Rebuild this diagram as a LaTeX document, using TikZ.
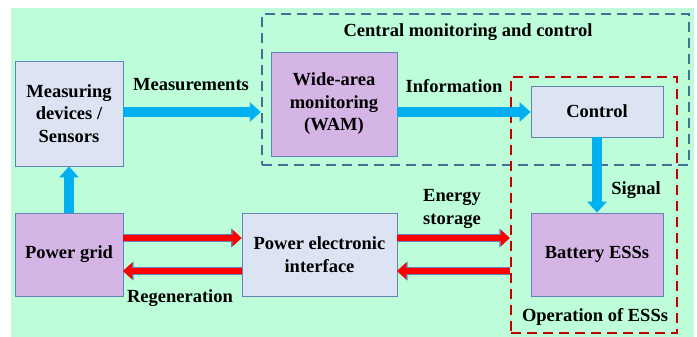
\documentclass[tikz,border=0pt]{standalone}
\usepackage{fontspec}
\setmainfont{Liberation Serif}
\usetikzlibrary{arrows.meta}
\definecolor{bggreen}{RGB}{189,253,218}
\definecolor{lightbox}{RGB}{220,228,244}
\definecolor{purplebox}{RGB}{213,181,230}
\definecolor{boxedge}{RGB}{100,130,180}
\definecolor{dashblue}{RGB}{70,110,150}
\definecolor{dashred}{RGB}{192,0,0}
\definecolor{arrowblue}{RGB}{0,176,240}
\newcommand\lblfont{\fontsize{18.5}{22.5}\selectfont\bfseries}
\tikzset{
  blk/.style={draw=boxedge, line width=0.8pt, inner sep=0pt, align=center, font=\lblfont},
  lightblk/.style={blk, fill=lightbox},
  purpleblk/.style={blk, fill=purplebox},
  lbl/.style={font=\lblfont, inner sep=0pt, align=center},
  groupbox/.style={line width=2.4pt, dash pattern=on 10pt off 6pt, inner sep=0pt},
  blueflow/.style={line width=10pt, draw=arrowblue, -{Triangle[width=19pt,length=11pt]}},
  redflow/.style={preaction={draw=boxedge, line width=8pt, -{Triangle[width=18.5pt,length=10.5pt]}},
    line width=6.5pt, draw=red, -{Triangle[width=16pt,length=9pt]}},
}
\begin{document}
\begin{tikzpicture}[x=1pt,y=-1pt]
\useasboundingbox (0,0) rectangle (697,337);
\fill[bggreen] (11,8) rectangle (694,337);
% group boxes
\node[groupbox, draw=dashblue, minimum width=427pt, minimum height=151pt] (cmc) at (475.5,89.5) {};
\node[groupbox, draw=dashred, minimum width=166pt, minimum height=256pt] (ops) at (594,205) {};
% blocks
\node[lightblk, minimum width=108pt, minimum height=105pt] (meas) at (69,113.5) {Measuring\\devices /\\Sensors};
\node[purpleblk, minimum width=126pt, minimum height=104pt] (wam) at (334,104) {Wide-area\\monitoring\\(WAM)};
\node[lightblk, minimum width=132pt, minimum height=51pt] (ctrl) at (597,111.5) {Control};
\node[purpleblk, minimum width=108pt, minimum height=83pt] (grid) at (69,254.5) {Power grid};
\node[lightblk, minimum width=155pt, minimum height=83pt] (pei) at (319.5,254.5) {Power electronic\\interface};
\node[purpleblk, minimum width=132pt, minimum height=83pt] (bat) at (597,254.5) {Battery ESSs};
% labels
\node[lbl] (lcmc) at (468,32) {Central monitoring and control};
\node[lbl] (lops) at (595,317) {Operation of ESSs};
\node[lbl] (lmeas) at (191,85) {Measurements};
\node[lbl] (linfo) at (454,86) {Information};
\node[lbl] (lsig) at (636,190) {Signal};
\node[lbl] (lstor) at (452,209) {Energy\\storage};
\node[lbl] (lregen) at (180,298) {Regeneration};
% coordinates
\coordinate (m1) at (123,112);
\coordinate (w1) at (397,112);
\coordinate (g1) at (123,238);
\coordinate (g2) at (123,271);
\coordinate (p1) at (397,238);
\coordinate (p2) at (397,271);
% blue flows
\draw[blueflow] (m1) -- (m1 -| cmc.west);
\draw[blueflow] (w1) -- (w1 -| ctrl.west);
\draw[blueflow] (ctrl.south) -- (bat.north);
\draw[blueflow] (grid.north) -- (meas.south);
% red flows
\draw[redflow] (g1) -- (g1 -| pei.west);
\draw[redflow] (g2 -| pei.west) -- (g2);
\draw[redflow] (p1) -- (p1 -| ops.west);
\draw[redflow] (p2 -| ops.west) -- (p2);
\end{tikzpicture}
\end{document}
